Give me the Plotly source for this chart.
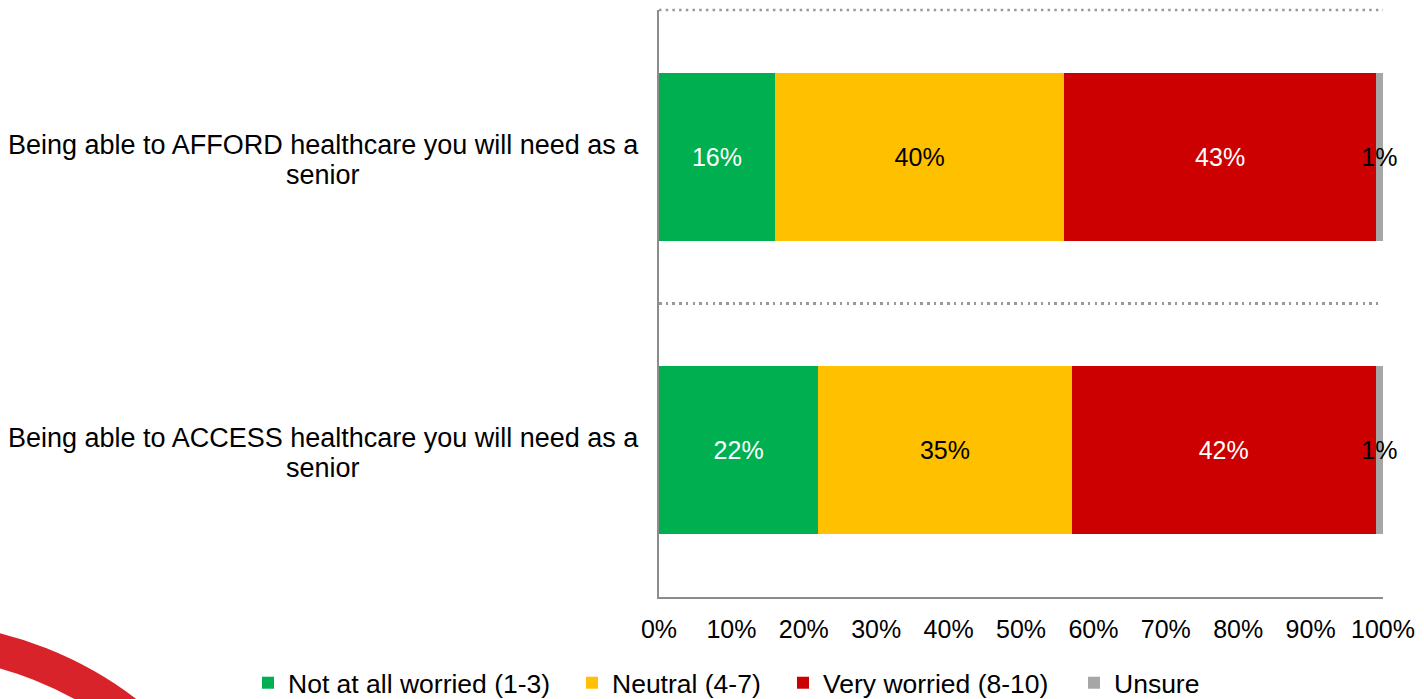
import plotly.graph_objects as go

# Survey items (top to bottom) and the share of answers per worry level
items = [
    "Being able to AFFORD healthcare you will need as a<br>senior",
    "Being able to ACCESS healthcare you will need as a<br>senior",
]
item_keys = ["AFFORD", "ACCESS"]

series_names = ["Not at all worried (1-3)", "Neutral (4-7)", "Very worried (8-10)", "Unsure"]
not_worried = [16, 22]
neutral = [40, 35]
very_worried = [43, 42]
unsure = [1, 1]

x_ticks = [0, 10, 20, 30, 40, 50, 60, 70, 80, 90, 100]

series_values = [not_worried, neutral, very_worried, unsure]
colors = ["#00B050", "#FFC000", "#CC0000", "#A6A6A6"]
text_colors = ["white", "black", "white", "black"]

FONT = "Liberation Sans, Arial, sans-serif"
W, H = 1424, 699

# Each legend entry gets its own legend box so the entries can be spaced freely
legend_ids = ["legend", "legend2", "legend3", "legend4"]
legend_left_px = [248, 572, 783, 1074]

fig = go.Figure()
for name, vals, col, tcol, lid in zip(series_names, series_values, colors, text_colors, legend_ids):
    fig.add_trace(go.Bar(
        y=item_keys,
        x=vals,
        name=name,
        orientation="h",
        marker=dict(color=col, line=dict(width=0)),
        text=[f"{v}%" for v in vals],
        textposition="inside",
        insidetextanchor="middle",
        textangle=0,
        constraintext="none",
        textfont=dict(family=FONT, size=25, color=tcol),
        cliponaxis=False,
        hoverinfo="skip",
        legend=lid,
    ))

# Category labels: each line centred to the left of its bar
line_shifts = [12, -18]
for key, label in zip(item_keys, items):
    for line, shift in zip(label.split("<br>"), line_shifts):
        fig.add_annotation(
            x=-0.464, xref="paper", xanchor="center",
            y=key, yref="y", yanchor="middle",
            yshift=shift,
            text=line, showarrow=False, align="center",
            font=dict(family=FONT, size=27, color="black"),
        )

# Dotted rule along the top of the plot area (the inner boundaries come from the grid)
fig.add_shape(
    type="line", xref="paper", yref="paper", x0=0, x1=1, y0=1, y1=1,
    line=dict(color="#999999", width=2.5, dash="2.5px,4.2px"),
)

# Red swoosh in the lower-left corner
fig.add_shape(
    type="circle", xref="paper", yref="paper",
    x0=-1.529, x1=-0.543, y0=-1.288, y1=-0.0716,
    line=dict(color="#D9232B", width=34),
    fillcolor="rgba(0,0,0,0)", layer="below",
)

legend_common = dict(
    orientation="h",
    xref="container", yref="container",
    xanchor="left", yanchor="middle",
    y=(H - 683) / H,
    font=dict(family=FONT, size=26.5, color="black"),
    bgcolor="rgba(0,0,0,0)",
    borderwidth=0,
    itemclick=False, itemdoubleclick=False,
)
legends = {lid: dict(legend_common, x=px / W) for lid, px in zip(legend_ids, legend_left_px)}

fig.update_layout(
    width=W, height=H,
    margin=dict(l=659, r=41, t=10, b=102),
    barmode="stack",
    bargap=0.428,
    paper_bgcolor="white",
    plot_bgcolor="white",
    font=dict(family=FONT, size=25, color="black"),
    showlegend=True,
    xaxis=dict(
        range=[0, 100],
        tickvals=x_ticks,
        ticktext=[f"{t}%" for t in x_ticks],
        showgrid=False,
        zeroline=False,
        showline=True, linecolor="#8C8C8C", linewidth=2,
        ticks="",
        ticklabelstandoff=9,
        tickfont=dict(family=FONT, size=25, color="black"),
        fixedrange=True,
    ),
    yaxis=dict(
        autorange="reversed",
        showticklabels=False,
        ticks="",
        tickson="boundaries",
        showgrid=True, gridcolor="#999999", gridwidth=2.5, griddash="2.5px,4.2px",
        showline=True, linecolor="#8C8C8C", linewidth=2,
        zeroline=False,
        fixedrange=True,
    ),
    **legends,
)

fig.write_html("out.html")
